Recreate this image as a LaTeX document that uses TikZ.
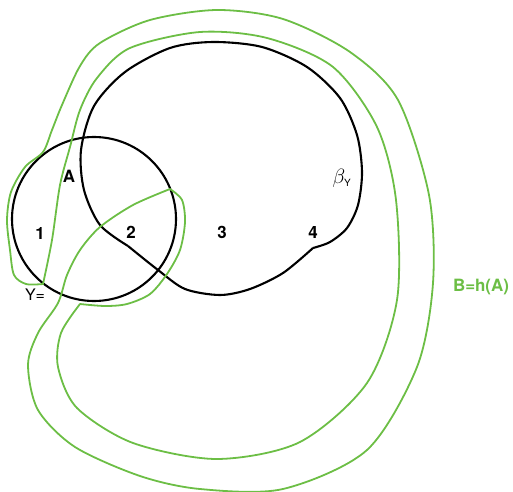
\documentclass[tikz,border=0pt]{standalone}
\usepackage{amsmath,amssymb}
\usepackage{fontspec}
\setmainfont{TeX Gyre Heros}
\usepackage{tikz}
\usetikzlibrary{calc,positioning}
\definecolor{fieldgreen}{HTML}{6CBE45}

\begin{document}
\begin{tikzpicture}[x=1bp, y=-1bp,
    region/.style={font=\fontsize{17}{20}\selectfont\bfseries},
    curveB/.style={fieldgreen, line width=1.8bp, line join=round},
    curveY/.style={black, line width=2.1bp, line join=round}]
    \useasboundingbox (0,0) rectangle (513,492);

    % Set A
    \draw[curveY] (94,219) circle[radius=82];

    % Curve beta_Y (two arcs meeting at the cusps)
    \draw[curveY] plot[smooth] coordinates {(128,246) (100,225) (84,190)
        (81,150) (94,106) (125,72) (170,48) (213,42) (262,47) (307,67)
        (340,98) (357,135) (362,172) (358,205) (347,228) (330,242) (313,248)};
    \draw[curveY] plot[smooth] coordinates {(313,248) (283,273) (250,289)
        (220,295) (185,289) (158,270) (128,246)};

    % Image B = h(A)
    \draw[curveB] plot[smooth] coordinates {(43,284) (52,240) (60,185)
        (70,147) (80,110) (97,78) (130,48) (200,32) (267,38) (333,67)
        (377,127) (396,200) (397,300) (367,383) (300,442) (217,459)
        (133,443) (77,408) (58,367) (61,333) (80,304)}
      -- plot[smooth] coordinates {(80,304) (105,306) (127,304) (150,294) (167,274)
        (180,250) (185,222) (182,200) (170,189)}
      -- plot[smooth] coordinates {(170,189) (133,205) (100,227) (80,250)
        (67,275) (58,303) (38,333) (28,365) (38,410) (75,447) (140,476)
        (200,489) (283,489) (367,450) (417,367) (433,283) (429,195)
        (398,100) (350,52) (283,19) (217,10) (150,20) (100,43) (80,66)
        (62,105) (52,130) (43,152)
        (25,167) (11,192) (7,220) (10,250) (14,275) (26,284) (43,284)} -- cycle;

    % Labels
    \node[region] (labelA) at (69,176) {A};
    \node[region] (one) at (40,233) {1};
    \node[region] (two) at (131,232) {2};
    \node[region] (three) at (222,232) {3};
    \node[region] (four) at (313,232) {4};
    \node[font=\fontsize{16}{19}\selectfont] (yeq) at (35,295) {Y=};
    \node[font=\fontsize{21}{24}\selectfont] (betaY) at (342,178)
        {$\beta_{\text{\fontsize{10}{12}\selectfont Y}}$};
    \node[region, fieldgreen] (labelB) at (481,287) {B=h(A)};

\end{tikzpicture}
\end{document}
